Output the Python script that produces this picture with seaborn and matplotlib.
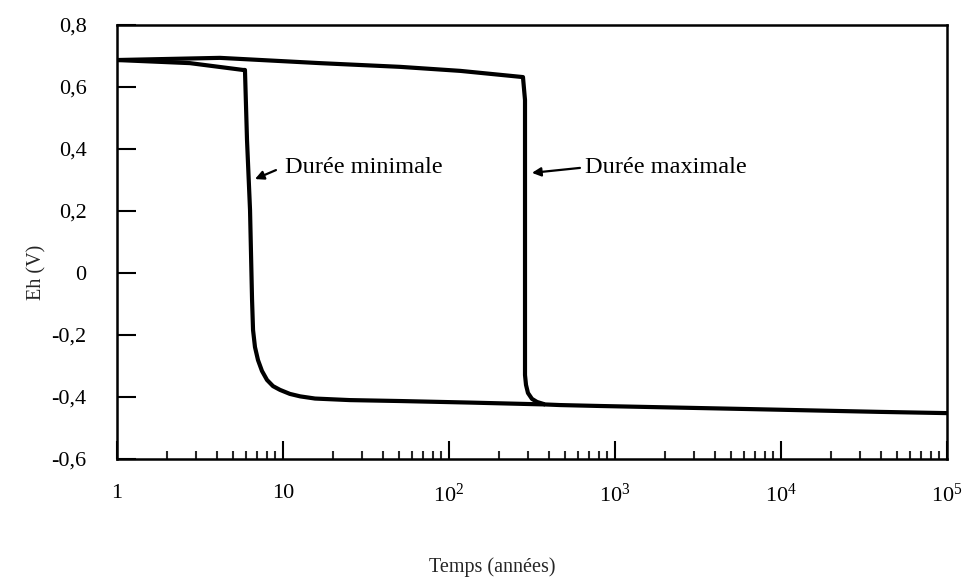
import numpy as np
import pandas as pd
import matplotlib
matplotlib.use("Agg")
import matplotlib.pyplot as plt
from matplotlib.ticker import LogLocator, NullFormatter, FixedLocator, FixedFormatter
import seaborn as sns

# ---- data ----
t_min = [1, 2.75, 5.74, 5.90, 6.07, 6.33, 6.51, 6.60, 6.78, 7.07, 7.47, 8.01, 8.71, 9.59,
         11.0, 12.7, 15.6, 25.3, 50.7, 134, 379]
eh_min = [0.687, 0.677, 0.655, 0.655, 0.429, 0.203, -0.087, -0.184, -0.239, -0.281, -0.316,
          -0.345, -0.365, -0.377, -0.390, -0.398, -0.405, -0.410, -0.413, -0.418, -0.424]

t_max = [1, 4.17, 16.7, 50.7, 117, 279, 287, 287, 291, 299, 316, 339, 379, 466, 812, 6500,
         39400, 100000]
eh_max = [0.687, 0.694, 0.677, 0.665, 0.652, 0.632, 0.558, -0.329, -0.361, -0.387, -0.406,
          -0.416, -0.424, -0.426, -0.429, -0.439, -0.448, -0.452]

y_ticks = [-0.6, -0.4, -0.2, 0.0, 0.2, 0.4, 0.6, 0.8]
y_labels = ["-0,6", "-0,4", "-0,2", "0", "0,2", "0,4", "0,6", "0,8"]
x_ticks = [1, 10, 100, 1000, 10000, 100000]
x_labels = ["1", "10", r"$10^{2}$", r"$10^{3}$", r"$10^{4}$", r"$10^{5}$"]

label_min = "Durée minimale"
label_max = "Durée maximale"
xlabel = "Temps (années)"
ylabel = "Eh (V)"

# ---- style ----
sns.set_theme(style="white")
plt.rcParams["font.family"] = ["Liberation Serif", "DejaVu Serif"]
plt.rcParams["mathtext.fontset"] = "custom"
plt.rcParams["mathtext.rm"] = "Liberation Serif"
plt.rcParams["mathtext.it"] = "Liberation Serif"
plt.rcParams["axes.unicode_minus"] = False

fig = plt.figure(figsize=(9.67, 5.83), dpi=100)
ax = fig.add_axes([117/967, 1 - 459/583, 830/967, 434/583])

df_min = pd.DataFrame({"t": t_min, "eh": eh_min})
df_max = pd.DataFrame({"t": t_max, "eh": eh_max})
sns.lineplot(data=df_max, x="t", y="eh", ax=ax, color="black", lw=3.0,
             estimator=None, sort=False)
sns.lineplot(data=df_min, x="t", y="eh", ax=ax, color="black", lw=3.0,
             estimator=None, sort=False)
for ln in ax.get_lines():
    ln.set_solid_joinstyle("round")
    ln.set_solid_capstyle("butt")

ax.set_xscale("log")
ax.set_xlim(1, 1e5)
ax.set_ylim(-0.6, 0.8)

ax.xaxis.set_major_locator(FixedLocator(x_ticks))
ax.xaxis.set_major_formatter(FixedFormatter(x_labels))
ax.xaxis.set_minor_locator(LogLocator(base=10, subs=np.arange(2, 10), numticks=20))
ax.xaxis.set_minor_formatter(NullFormatter())
ax.set_yticks(y_ticks)
ax.set_yticklabels(y_labels)

ax.tick_params(axis="x", which="major", direction="in", length=13, width=1.5,
               pad=18, labelsize=16, colors="black", bottom=True, top=False)
ax.tick_params(axis="x", which="minor", direction="in", length=5.5, width=1.5,
               bottom=True, top=False)
ax.tick_params(axis="y", which="major", direction="in", length=14, width=1.5,
               pad=22, labelsize=16, colors="black", left=True, right=False)

for s in ax.spines.values():
    s.set_visible(True)
    s.set_color("black")
    s.set_linewidth(1.8)

ax.set_xlabel(xlabel, fontsize=14.5)
ax.set_ylabel(ylabel, fontsize=14.5)
ax.xaxis.set_label_coords(0.452, -0.226)
ax.yaxis.set_label_coords(-0.0855, 0.43)

# annotations: arrows and texts
ax.annotate("", xy=(6.78, 0.303), xytext=(9.07, 0.332),
            arrowprops=dict(arrowstyle="-|>", color="black", lw=1.6,
                            mutation_scale=13, shrinkA=0, shrinkB=0))
ax.text(10.28, 0.339, label_min, fontsize=17.5, va="center", ha="left", color="black")
ax.annotate("", xy=(316, 0.323), xytext=(615, 0.339),
            arrowprops=dict(arrowstyle="-|>", color="black", lw=1.6,
                            mutation_scale=13, shrinkA=0, shrinkB=0))
ax.text(660, 0.339, label_max, fontsize=17.5, va="center", ha="left", color="black")

fig.savefig("out.png", dpi=100, facecolor="white")
